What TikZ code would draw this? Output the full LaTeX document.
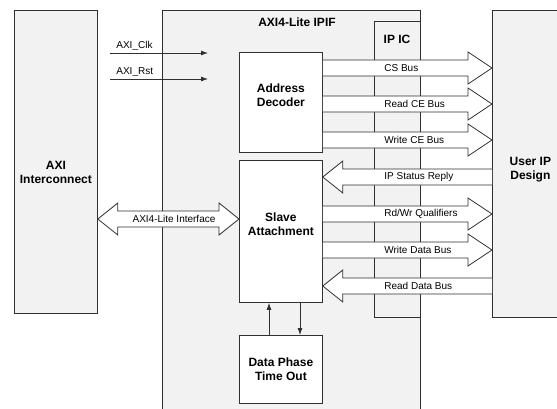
\documentclass[tikz,border=0pt]{standalone}
\usepackage{fontspec}
\setmainfont{Liberation Sans}
\usetikzlibrary{arrows.meta,calc}
\definecolor{panel}{HTML}{F2F2F2}
\definecolor{edge}{HTML}{303030}
\tikzset{
  blk/.style={draw=edge, fill=white, align=center, anchor=north west, inner sep=0pt,
    font=\bfseries\fontsize{12}{14}\selectfont},
  raised/.style={text depth=15pt},
  bus/.style={draw=edge, fill=white},
  sig/.style={draw=edge, -{Latex[length=7pt,width=5pt]}},
  lbl/.style={font=\fontsize{10}{12}\selectfont, inner sep=0pt},
  ttl/.style={font=\bfseries\fontsize{12}{14}\selectfont, align=center, inner sep=0pt},
}

\begin{document}
\begin{tikzpicture}[x=1pt,y=-1pt,line width=0.8pt]
    \useasboundingbox (0,0) rectangle (557,408);
    % AXI side
    \node[blk, fill=panel, text height=43pt, minimum width=83pt, minimum height=303pt] (axi) at (14,10) {AXI\\Interconnect};
    % IPIF frame, open at the bottom
    \fill[panel] (162,10) rectangle (420,412);
    \draw[edge] (162,412) |- (420,10) -- (420,412);
    \node[ttl] (ipif) at (297,22) {AXI4-Lite IPIF};
    \node[blk, fill=panel, minimum width=46pt, minimum height=296pt] (ipic) at (374,21) {};
    \node[ttl] (ipict) at (397,39) {IP IC};
    % user side, open at the right
    \node[blk, draw=none, fill=panel, text height=33pt, minimum width=76pt, minimum height=307pt] (usr) at (492,10) {User IP\\Design};
    \draw[edge] (usr.north east) -- (usr.north west) -- (usr.south west) -- (usr.south east);
    % blocks
    \node[blk, raised, minimum width=83pt, minimum height=100pt] (dec) at (239,52) {Address\\Decoder};
    \node[blk, raised, minimum width=83pt, minimum height=142pt] (slv) at (239,160) {Slave\\Attachment};
    \node[blk, minimum width=83pt, minimum height=68pt] (dpt) at (239,335) {Data Phase\\Time Out};
    % clock and reset
    \coordinate (clk) at (110,53);
    \coordinate (clke) at (208,53);
    \coordinate (rst) at (110,79);
    \coordinate (rste) at (208,79);
    \draw[sig] (clk) -- (clke);
    \draw[sig] (rst) -- (rste);
    \node[lbl, anchor=west] (clkl) at (116,46) {AXI\_Clk};
    \node[lbl, anchor=west] (rstl) at (116,72) {AXI\_Rst};
    % buses to the user IP
    \foreach \y/\s/\t in {68/dec/CS Bus, 104/dec/Read CE Bus, 140/dec/Write CE Bus, 214/slv/{Rd/Wr Qualifiers}, 250/slv/Write Data Bus} {
        \draw[bus] ($(\s.east |- 0,\y)+(0,-8)$) -- ($(usr.west |- 0,\y)+(-24,-8)$) -- ++(0,-8)
            -- (usr.west |- 0,\y) -- ($(usr.west |- 0,\y)+(-24,16)$) -- ++(0,-8) -- ($(\s.east |- 0,\y)+(0,8)$);
        \node[lbl, anchor=west] (b\y) at (384,\y) {\t};
    }
    % buses from the user IP
    \foreach \y/\s/\t in {177/slv/IP Status Reply, 286/slv/Read Data Bus} {
        \draw[bus] ($(usr.west |- 0,\y)+(0,-8)$) -- ($(\s.east |- 0,\y)+(20,-8)$) -- ++(0,-8)
            -- (\s.east |- 0,\y) -- ($(\s.east |- 0,\y)+(20,16)$) -- ++(0,-8) -- ($(usr.west |- 0,\y)+(0,8)$);
        \node[lbl, anchor=west] (b\y) at (384,\y) {\t};
    }
    % AXI4-Lite interface
    \draw[bus] ($(axi.east |- 0,219)+(20,-8)$) -- ($(slv.west |- 0,219)+(-20,-8)$) -- ++(0,-8)
        -- (slv.west |- 0,219) -- ($(slv.west |- 0,219)+(-20,16)$) -- ++(0,-8)
        -- ($(axi.east |- 0,219)+(20,8)$) -- ++(0,8) -- (axi.east |- 0,219)
        -- ($(axi.east |- 0,219)+(20,-16)$) -- cycle;
    \node[lbl] (axil) at (174,219) {AXI4-Lite Interface};
    % time out handshake
    \draw[sig] (dpt.north -| 269,0) -- (slv.south -| 269,0);
    \draw[sig] (slv.south -| 300,0) -- (dpt.north -| 300,0);
\end{tikzpicture}
\end{document}
